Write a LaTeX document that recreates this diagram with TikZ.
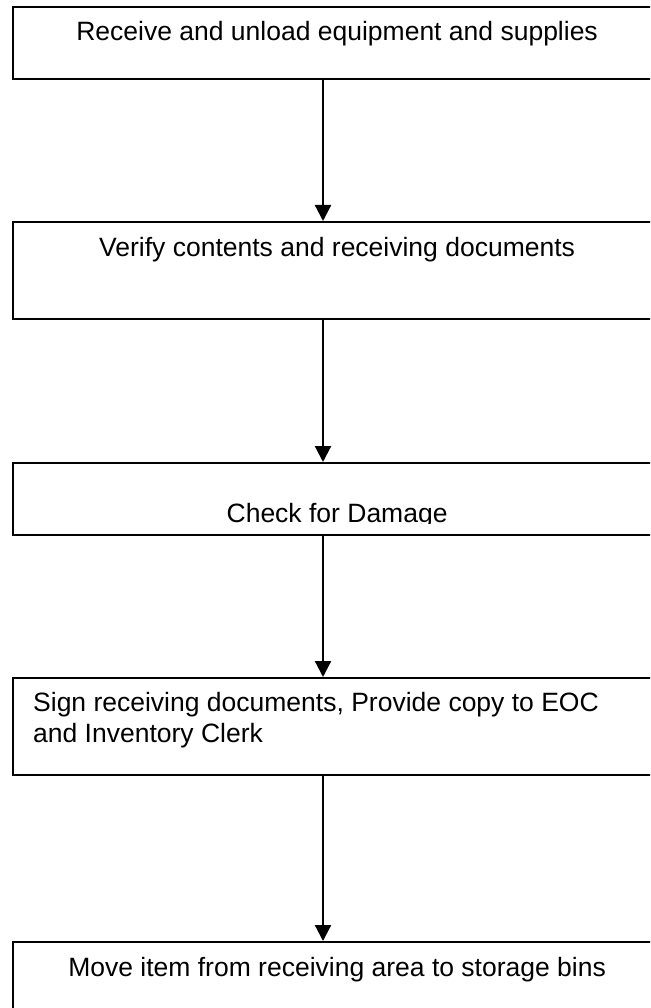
\documentclass[tikz,border=0pt]{standalone}
\usepackage{fontspec}
\setmainfont{Liberation Sans}
\usetikzlibrary{arrows.meta,calc}
\tikzset{
  stepbox/.style={draw=black, line width=2.2pt, inner sep=0pt, minimum width=648pt, anchor=north west},
  steptext/.style={inner sep=0pt, font=\fontsize{26.5pt}{31pt}\selectfont, text=black},
  flow/.style={line width=2.2pt, -{Triangle[width=16pt,length=16pt]}}
}
\begin{document}
\begin{tikzpicture}[x=1pt,y=1pt]
\clip (0,0) rectangle (650,-1008);
\useasboundingbox (0,0) rectangle (650,-1008);
\coordinate (ax) at (323,0);
\node[stepbox, minimum height=72pt] (b1) at (12,-6) {};
\node[stepbox, minimum height=97pt] (b2) at (12,-221) {};
\node[stepbox, minimum height=72pt] (b3) at (12,-462) {};
\node[stepbox, minimum height=97pt] (b4) at (12,-677) {};
\node[stepbox, minimum height=110pt] (b5) at (12,-941) {};
\node[steptext, anchor=base] (t1) at ($(b1.north)+(0,-35)$) {Receive and unload equipment and supplies};
\node[steptext, anchor=base] (t2) at ($(b2.north)+(0,-35)$) {Verify contents and receiving documents};
\begin{scope}
\clip (12,-462) rectangle (660,-523.5);
\node[steptext, anchor=base] (t3) at ($(b3.north)+(0,-60)$) {Check for Damage};
\end{scope}
\node[steptext, anchor=base west, align=left] (t4) at ($(b4.north west)+(21,-65)$) {Sign receiving documents, Provide copy to EOC\\and Inventory Clerk};
\node[steptext, anchor=base] (t5) at ($(b5.north)+(0,-35)$) {Move item from receiving area to storage bins};
\draw[flow] (b1.south -| ax) -- (b2.north -| ax);
\draw[flow] (b2.south -| ax) -- (b3.north -| ax);
\draw[flow] (b3.south -| ax) -- (b4.north -| ax);
\draw[flow] (b4.south -| ax) -- (b5.north -| ax);
\end{tikzpicture}
\end{document}
